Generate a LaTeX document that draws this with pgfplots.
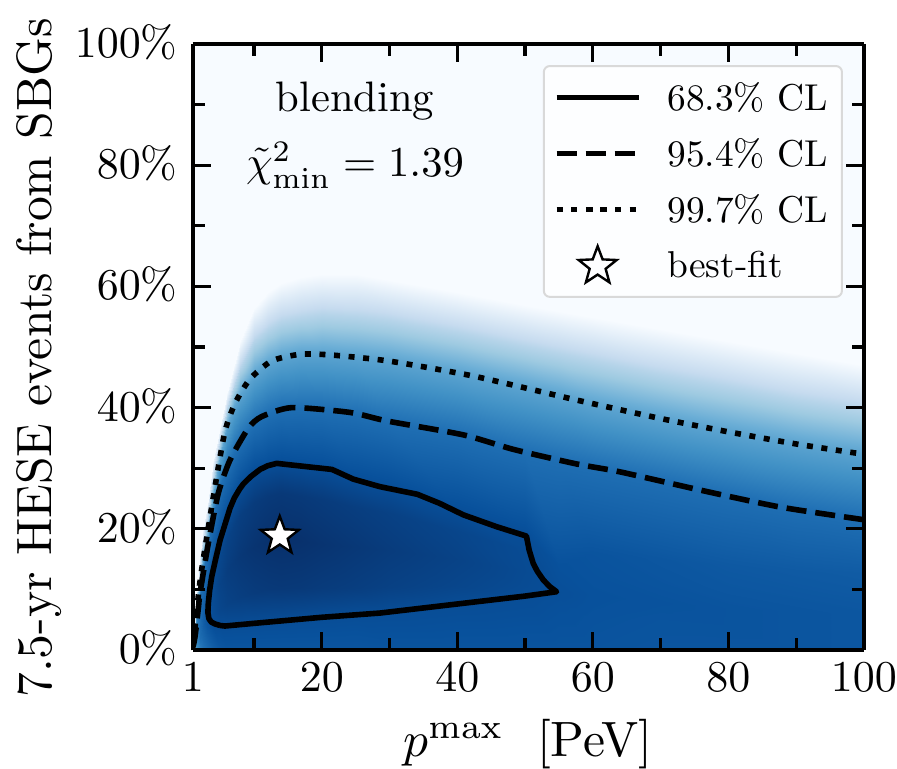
\documentclass[border=0pt]{standalone}
\usepackage{pgfplots}
\pgfplotsset{compat=1.18}
\usetikzlibrary{plotmarks}
\pgfdeclareplotmark{fstar}{%
  \pgfpathmoveto{\pgfqpointpolar{90}{\pgfplotmarksize}}%
  \pgfpathlineto{\pgfqpointpolar{126}{0.42\pgfplotmarksize}}%
  \pgfpathlineto{\pgfqpointpolar{162}{\pgfplotmarksize}}%
  \pgfpathlineto{\pgfqpointpolar{198}{0.42\pgfplotmarksize}}%
  \pgfpathlineto{\pgfqpointpolar{234}{\pgfplotmarksize}}%
  \pgfpathlineto{\pgfqpointpolar{270}{0.42\pgfplotmarksize}}%
  \pgfpathlineto{\pgfqpointpolar{306}{\pgfplotmarksize}}%
  \pgfpathlineto{\pgfqpointpolar{342}{0.42\pgfplotmarksize}}%
  \pgfpathlineto{\pgfqpointpolar{18}{\pgfplotmarksize}}%
  \pgfpathlineto{\pgfqpointpolar{54}{0.42\pgfplotmarksize}}%
  \pgfpathclose\pgfusepathqfillstroke}
\newcommand{\legtxt}[1]{\hspace*{11pt}\scalebox{1.87}{#1}}
\begin{document}
\begin{tikzpicture}
\useasboundingbox (-96.5pt,-59pt) rectangle (352pt,325pt);
\begin{axis}[
  scale only axis, width=335.5pt, height=303pt,
  view={0}{90},
  xmin=1, xmax=100, ymin=0, ymax=100,
  axis on top,
  axis line style={line width=2.4pt, black},
  xtick={1,20,40,60,80,100},
  minor xtick={10,30,50,70,90},
  ytick={0,20,40,60,80,100},
  minor ytick={10,30,50,70,90},
  yticklabel={\pgfmathprintnumber{\tick}\%},
  tick align=inside,
  major tick length=9pt, minor tick length=6pt,
  every tick/.style={black, line width=1.6pt},
  minor tick style={black, line width=1.6pt},
  tick label style={scale=2.2},
  xticklabel style={yshift=0.6pt},
  yticklabel style={yshift=0.4pt},
  every axis y label/.style={at={(axis description cs:-0.229,0.482)},rotate=90,anchor=center},
  every axis x label/.style={at={(axis description cs:0.499,-0.155)},anchor=center},
  ylabel={\scalebox{2.48}{7.5-yr HESE events from SBGs}},
  xlabel={\scalebox{2.48}{$p^{\mathrm{max}}$\ \ [PeV]}},
  colormap={blues}{rgb255(0)=(247,251,255) rgb255(1)=(222,235,247) rgb255(2)=(198,219,239) rgb255(3)=(158,202,225) rgb255(4)=(107,174,214) rgb255(5)=(66,146,198) rgb255(6)=(33,113,181) rgb255(7)=(8,81,156) rgb255(8)=(8,48,107)},
  point meta min=0, point meta max=1,
  legend cell align=left,
  legend style={at={(0.9687,0.9653)}, anchor=north east, rounded corners=3pt,
    draw=black!15, line width=1pt, fill=white, fill opacity=0.85, text opacity=1,
    row sep=8.5pt, inner xsep=5pt, inner ysep=6pt},
  legend image code/.code={\draw[mark repeat=2,mark phase=2,#1] plot coordinates {(0pt,0pt) (20.5pt,0pt) (41pt,0pt)};},
]
\addplot3[surf, shader=interp, forget plot, mesh/rows=11, mesh/cols=25, mesh/ordering=y varies, point meta=z]
table[row sep=\\] {
x y z\\
1 0 .45\\ 1 .1 .45\\ 1 .15 .45\\ 1 .2 .45\\ 1 .3 .45\\ 1 .4 .45\\ 1 .6 .4\\ 1 .8 .3\\ 1 1.2 .15\\ 1 1.6 0\\ 1 100 0\\
1.5 0 .6\\ 1.5 .5 .62\\ 1.5 .75 .63\\ 1.5 1 .64\\ 1.5 1.25 .65\\ 1.5 1.5 .66\\ 1.5 3.5 .7\\ 1.5 6 .55\\ 1.5 7.5 .3\\ 1.5 9 0\\ 1.5 100 0\\
2 0 .7\\ 2 1 .74\\ 2 1.5 .755\\ 2 2 .77\\ 2 3 .775\\ 2 4 .78\\ 2 9 .76\\ 2 11 .55\\ 2 13.5 .3\\ 2 16 0\\ 2 100 0\\
2.5 0 .75\\ 2.5 2 .79\\ 2.5 3 .805\\ 2.5 4 .82\\ 2.5 5.2 .82\\ 2.5 6.5 .82\\ 2.5 12.7 .76\\ 2.5 15 .55\\ 2.5 17.6 .3\\ 2.5 20.3 0\\ 2.5 100 0\\
3 0 .78\\ 3 3 .84\\ 3 4 .855\\ 3 5 .87\\ 3 6.5 .865\\ 3 8 .86\\ 3 16 .76\\ 3 18.5 .55\\ 3 21.2 .3\\ 3 24 0\\ 3 100 0\\
4 0 .82\\ 4 4.2 .89\\ 4 6 .895\\ 4 9 .9\\ 4 11.5 .895\\ 4 13.3 .89\\ 4 21.8 .76\\ 4 25.3 .55\\ 4 28.3 .3\\ 4 31.3 0\\ 4 100 0\\
5 0 .85\\ 5 4 .89\\ 5 6.8 .918\\ 5 11 .93\\ 5 15 .918\\ 5 18.15 .89\\ 5 27 .76\\ 5 31.7 .55\\ 5 34.3 .3\\ 5 37 0\\ 5 100 0\\
6 0 .86\\ 6 4 .89\\ 6 7.6 .932\\ 6 13 .95\\ 6 18.4 .932\\ 6 22 .89\\ 6 30 .76\\ 6 37 .55\\ 6 39.8 .3\\ 6 42.5 0\\ 6 100 0\\
7 0 .86\\ 7 4.1 .89\\ 7 8.3 .939\\ 7 14.5 .96\\ 7 20.6 .939\\ 7 24.6 .89\\ 7 32.7 .76\\ 7 40.1 .55\\ 7 43.5 .3\\ 7 47 0\\ 7 100 0\\
8 0 .86\\ 8 4.2 .89\\ 8 8.7 .946\\ 8 15.5 .97\\ 8 22.3 .946\\ 8 26.8 .89\\ 8 34.5 .76\\ 8 42 .55\\ 8 46.5 .3\\ 8 51 0\\ 8 100 0\\
10 0 .86\\ 10 4.4 .89\\ 10 9.4 .957\\ 10 17 .985\\ 10 24.5 .957\\ 10 29.5 .89\\ 10 37.3 .76\\ 10 45.4 .55\\ 10 51 .3\\ 10 56.5 0\\ 10 100 0\\
12 0 .86\\ 12 4.6 .89\\ 12 10 .964\\ 12 18 .995\\ 12 25.4 .964\\ 12 30.4 .89\\ 12 38.9 .76\\ 12 47.2 .55\\ 12 53 .3\\ 12 59 0\\ 12 100 0\\
14 0 .86\\ 14 4.8 .89\\ 14 10.3 .967\\ 14 18.5 1\\ 14 25.9 .967\\ 14 30.8 .89\\ 14 39.7 .76\\ 14 48.2 .55\\ 14 54.3 .3\\ 14 60.5 0\\ 14 100 0\\
17 0 .86\\ 17 5.1 .89\\ 17 10.3 .964\\ 17 18 .995\\ 17 25.4 .964\\ 17 30.3 .89\\ 17 40 .76\\ 17 48.8 .55\\ 17 55 .3\\ 17 61.5 0\\ 17 100 0\\
20 0 .86\\ 20 5.4 .89\\ 20 10.2 .957\\ 20 17.5 .985\\ 20 25 .957\\ 20 29.9 .89\\ 20 39.7 .76\\ 20 48.8 .55\\ 20 55.4 .3\\ 20 62 0\\ 20 100 0\\
25 0 .86\\ 25 5.9 .89\\ 25 10.3 .947\\ 25 17 .97\\ 25 23.6 .947\\ 25 28 .89\\ 25 39 .76\\ 25 48.3 .55\\ 25 55.2 .3\\ 25 62 0\\ 25 100 0\\
30 0 .865\\ 30 6.3 .89\\ 30 10.4 .936\\ 30 16.5 .955\\ 30 22.6 .936\\ 30 26.7 .89\\ 30 37.7 .76\\ 30 47.7 .55\\ 30 54.4 .3\\ 30 61 0\\ 30 100 0\\
40 0 .865\\ 40 7.5 .89\\ 40 10.5 .918\\ 40 15 .93\\ 40 19.6 .918\\ 40 22.7 .89\\ 40 35.7 .76\\ 40 45.7 .55\\ 40 52.4 .3\\ 40 59 0\\ 40 100 0\\
50 0 .865\\ 50 8.9 .89\\ 50 10.5 .897\\ 50 13 .9\\ 50 16.5 .897\\ 50 18.9 .89\\ 50 32.6 .76\\ 50 43.2 .55\\ 50 50.2 .3\\ 50 57 0\\ 50 100 0\\
55 0 .865\\ 55 8 .88\\ 55 8.8 .883\\ 55 9.6 .885\\ 55 11.8 .88\\ 55 14 .875\\ 55 31.3 .76\\ 55 41.9 .55\\ 55 49 .3\\ 55 56 0\\ 55 100 0\\
60 0 .865\\ 60 5 .87\\ 60 7 .873\\ 60 9 .875\\ 60 12 .87\\ 60 16 .865\\ 60 30.2 .76\\ 60 40.5 .55\\ 60 47.8 .3\\ 60 55 0\\ 60 100 0\\
70 0 .86\\ 70 5 .865\\ 70 6.5 .868\\ 70 8 .87\\ 70 11 .863\\ 70 15 .855\\ 70 27.9 .76\\ 70 38.2 .55\\ 70 45.6 .3\\ 70 53 0\\ 70 100 0\\
80 0 .86\\ 80 4 .865\\ 80 5.5 .865\\ 80 7 .865\\ 80 10 .855\\ 80 14 .845\\ 80 25.6 .76\\ 80 36 .55\\ 80 43.5 .3\\ 80 51 0\\ 80 100 0\\
90 0 .86\\ 90 3 .86\\ 90 4.7 .86\\ 90 6.5 .86\\ 90 9.5 .85\\ 90 13 .84\\ 90 23.2 .76\\ 90 34 .55\\ 90 41.5 .3\\ 90 49 0\\ 90 100 0\\
100 0 .855\\ 100 3 .855\\ 100 4.5 .855\\ 100 6 .855\\ 100 9 .845\\ 100 12.5 .835\\ 100 21.5 .76\\ 100 32.3 .55\\ 100 39.7 .3\\ 100 47 0\\ 100 100 0\\
};
\addplot[black, line width=2.8pt, line join=round] coordinates {
(5,4.05) (5.72,3.96) (10,4.4) (20,5.4) (28.6,6.1) (38.5,7.4) (50,8.9) (54.65,9.62)
(53.6,10.5) (52.7,11.55) (51.8,13) (51.2,14.3) (50.6,16.5) (50.2,18.8) (45.8,20.35) (40.9,22.3) (37.4,24.2) (34.1,25.7)
(28.6,26.95) (24.65,28.2) (21.5,29.8) (13.35,30.8) (12,30.4) (10.9,29.8) (9.5,28.6) (8.42,27.4) (7.9,26.6) (7.1,25.1) (6.46,23.4)
(5,18.15) (4.3,14.8) (3.76,12.1) (3.45,9.8) (3.26,7.7) (3.2,6.2) (3.34,5.2) (3.7,4.6) (4.25,4.3) (5,4.05)};
\addlegendentry{\legtxt{68.3\% CL}}
\addplot[black, line width=2.8pt, dash pattern=on 10pt off 4.5pt, smooth, tension=0.4] coordinates {
(1.0,0.5) (1.3,2.2) (1.8,7) (2.03,9.35) (3.26,17.6) (4.73,25.85) (6.46,31.35) (9.16,36.6)
(11.1,38.5) (15.56,40) (24.2,39.2) (29.6,37.8) (40.9,35.5) (48.3,33.1) (57.6,30.7)
(64,29.4) (75.8,26.4) (87.6,23.6) (100,21.5)};
\addlegendentry{\legtxt{95.4\% CL}}
\addplot[black, line width=2.8pt, dash pattern=on 3pt off 4.3pt, smooth, tension=0.4] coordinates {
(1.05,1) (1.15,2) (1.5,6) (2,11) (2.5,14.85) (4.25,26.95) (5.7,36) (7.2,40.7) (9.4,44.7)
(12.6,47.7) (16.8,48.8) (21.2,48.7) (29.8,47.7) (42.4,45.2) (57.6,41.25) (70,38.2)
(80,36) (90,34) (100,32.3)};
\addlegendentry{\legtxt{99.7\% CL}}
\addplot[only marks, mark=fstar, mark size=10pt, mark options={draw=black, fill=white, line width=1.2pt}] coordinates {(13.8,18.8)};
\addlegendentry{\legtxt{best-fit}\rule[-3pt]{0pt}{1pt}}
\node[scale=2.13] at (axis cs:24.9,90.6) {blending};
\node[scale=2.13] at (axis cs:24.9,80) {$\tilde{\chi}^2_{\mathrm{min}}=1.39$};
\end{axis}
\end{tikzpicture}
\end{document}
